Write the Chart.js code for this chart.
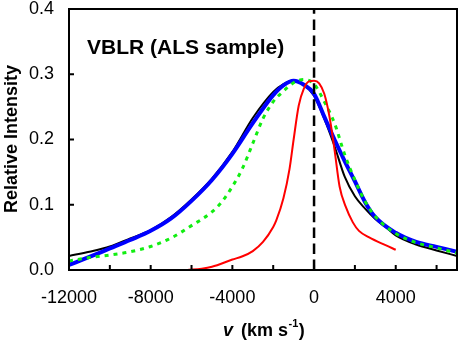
<!DOCTYPE html>
<html>
<head>
<meta charset="utf-8">
<script src="https://cdn.jsdelivr.net/npm/chart.js@4"></script>
<style>
html, body { margin: 0; padding: 0; background: #fff; }
canvas { display: block; }
</style>
</head>
<body>
<canvas id="chart" width="458" height="347"></canvas>
<script>
// velocity (km/s) and relative intensity
const blackV = [-12000, -11000, -10000, -9000, -8000, -7000, -6000, -5000, -4000, -3000, -2000, -1500, -1000, -500, 0, 500, 1000, 1500, 2000, 2500, 3000, 3500, 4000, 5000, 6000, 7000];
const blackI = [0.0215, 0.028, 0.036, 0.0485, 0.061, 0.081, 0.108, 0.14, 0.181, 0.233, 0.273, 0.285, 0.29, 0.284, 0.267, 0.232, 0.19, 0.143, 0.113, 0.094, 0.078, 0.066, 0.053, 0.039, 0.030, 0.0215];

const blueV = [-12000, -11000, -10000, -9000, -8000, -7000, -6000, -5000, -4000, -3000, -2000, -1500, -1000, -500, 0, 500, 1000, 1500, 2000, 2500, 3000, 4000, 5000, 6000, 7000];
const blueI = [0.0077, 0.020, 0.033, 0.046, 0.060, 0.079, 0.106, 0.138, 0.178, 0.225, 0.268, 0.283, 0.29, 0.284, 0.27, 0.235, 0.2, 0.167, 0.136, 0.104, 0.081, 0.057, 0.043, 0.0355, 0.028];

const greenV = [-12000, -11000, -10000, -9000, -8000, -7000, -6000, -5000, -4500, -4000, -3500, -3000, -2500, -2000, -1500, -1000, -500, 0, 500, 1000, 1500, 2000, 2500, 3000, 4000, 5000, 6000, 7000];
const greenI = [0.0138, 0.019, 0.023, 0.028, 0.036, 0.049, 0.068, 0.089, 0.105, 0.128, 0.156, 0.194, 0.232, 0.258, 0.274, 0.287, 0.292, 0.285, 0.258, 0.225, 0.177, 0.138, 0.105, 0.082, 0.056, 0.042, 0.034, 0.026];

const redV = [-6200, -5500, -5000, -4000, -3500, -3000, -2500, -2000, -1850, -1500, -1200, -1000, -750, -500, -250, 0, 250, 500, 750, 1000, 1250, 1550, 1900, 2200, 2700, 3500, 4000];
const redI = [0, 0.002, 0.005, 0.016, 0.021, 0.029, 0.043, 0.066, 0.076, 0.11, 0.155, 0.2, 0.252, 0.278, 0.289, 0.29, 0.286, 0.27, 0.236, 0.185, 0.128, 0.097, 0.073, 0.06, 0.05, 0.038, 0.031];

const zeroV = [0, 0];
const zeroI = [0, 0.4];

const xMin = -12000, xMax = 7000, xLabelEvery = 4000;
const xTicks = [-12000, -10000, -8000, -6000, -4000, -2000, 0, 2000, 4000, 6000];
const yMin = 0, yMax = 0.4;
const yTicks = [0, 0.1, 0.2, 0.3, 0.4];

const FONT = "'Liberation Sans', Arial, Helvetica, sans-serif";

function pts(xs, ys) {
	return xs.map((x, i) => ({ x, y: ys[i] }));
}

function lineSet(data, color, width, dash) {
	return {
		data,
		borderColor: color,
		borderWidth: width,
		borderDash: dash || [],
		pointRadius: 0,
		fill: false,
		cubicInterpolationMode: "monotone",
	};
}

// frame, inward ticks and the free text
const decor = {
	id: "decor",
	afterDraw(chart) {
		const { ctx, chartArea: a, scales } = chart;
		ctx.save();
		ctx.strokeStyle = "#000";
		ctx.lineWidth = 2;
		ctx.beginPath();
		xTicks.forEach((v) => {
			if (v <= xMin || v >= xMax) return;
			const px = scales.x.getPixelForValue(v);
			ctx.moveTo(px, a.bottom);
			ctx.lineTo(px, a.bottom - 5);
		});
		yTicks.forEach((v) => {
			if (v <= yMin || v >= yMax) return;
			const py = scales.y.getPixelForValue(v);
			ctx.moveTo(a.left, py);
			ctx.lineTo(a.left + 5, py);
		});
		ctx.stroke();
		ctx.strokeRect(a.left, a.top, a.right - a.left, a.bottom - a.top);

		ctx.fillStyle = "#000";
		ctx.textBaseline = "alphabetic";
		ctx.textAlign = "left";
		ctx.font = `bold 21px ${FONT}`;
		ctx.fillText("VBLR (ALS sample)", 87, 54);

		// x title
		let x = 223;
		const yb = 336;
		ctx.font = `italic bold 18px ${FONT}`;
		ctx.fillText("v", x, yb);
		x = 241;
		ctx.font = `bold 18px ${FONT}`;
		ctx.fillText("(km s", x, yb);
		x += ctx.measureText("(km s").width + 0.5;
		ctx.font = `bold 11px ${FONT}`;
		ctx.fillText("-1", x, yb - 9);
		x += ctx.measureText("-1").width + 0.5;
		ctx.font = `bold 18px ${FONT}`;
		ctx.fillText(")", x, yb);

		// y title
		ctx.translate(17, 139);
		ctx.rotate(-Math.PI / 2);
		ctx.textAlign = "center";
		ctx.font = `bold 18px ${FONT}`;
		ctx.fillText("Relative Intensity", 0, 0);
		ctx.restore();
	},
};

new Chart(document.getElementById("chart"), {
	type: "line",
	data: {
		datasets: [
			lineSet(pts(zeroV, zeroI), "#000", 2.5, [10.5, 5.5]),
			lineSet(pts(redV, redI), "#ff0000", 2),
			lineSet(pts(greenV, greenI), "#11ee11", 3, [4, 5]),
			lineSet(pts(blueV, blueI), "#0000ff", 4),
			lineSet(pts(blackV, blackI), "#000", 2),
		],
	},
	options: {
		responsive: false,
		animation: false,
		events: [],
		layout: { padding: { top: 9, right: 1, left: 0, bottom: 0 } },
		plugins: { legend: { display: false }, tooltip: { enabled: false } },
		scales: {
			x: {
				type: "linear",
				min: xMin,
				max: xMax,
				grid: { display: false, drawTicks: false },
				border: { display: false },
				ticks: {
					padding: 19,
					color: "#000",
					maxRotation: 0,
					minRotation: 0,
					autoSkip: false,
					font: { family: FONT, size: 18, lineHeight: 1 },
					callback: (v) => (v % xLabelEvery === 0 ? String(v) : ""),
				},
				afterBuildTicks: (s) => { s.ticks = xTicks.map((v) => ({ value: v })); },
				afterFit: (s) => { s.height = 77; s.paddingLeft = 0; s.paddingRight = 0; },
			},
			y: {
				min: yMin,
				max: yMax,
				grid: { display: false, drawTicks: false },
				border: { display: false },
				ticks: {
					padding: 15,
					color: "#000",
					autoSkip: false,
					font: { family: FONT, size: 18, lineHeight: 1 },
					callback: (v) => v.toFixed(1),
				},
				afterBuildTicks: (s) => { s.ticks = yTicks.map((v) => ({ value: v })); },
				afterFit: (s) => { s.width = 69; s.paddingTop = 0; s.paddingBottom = 0; },
			},
		},
	},
	plugins: [decor],
});
</script>
</body>
</html>
